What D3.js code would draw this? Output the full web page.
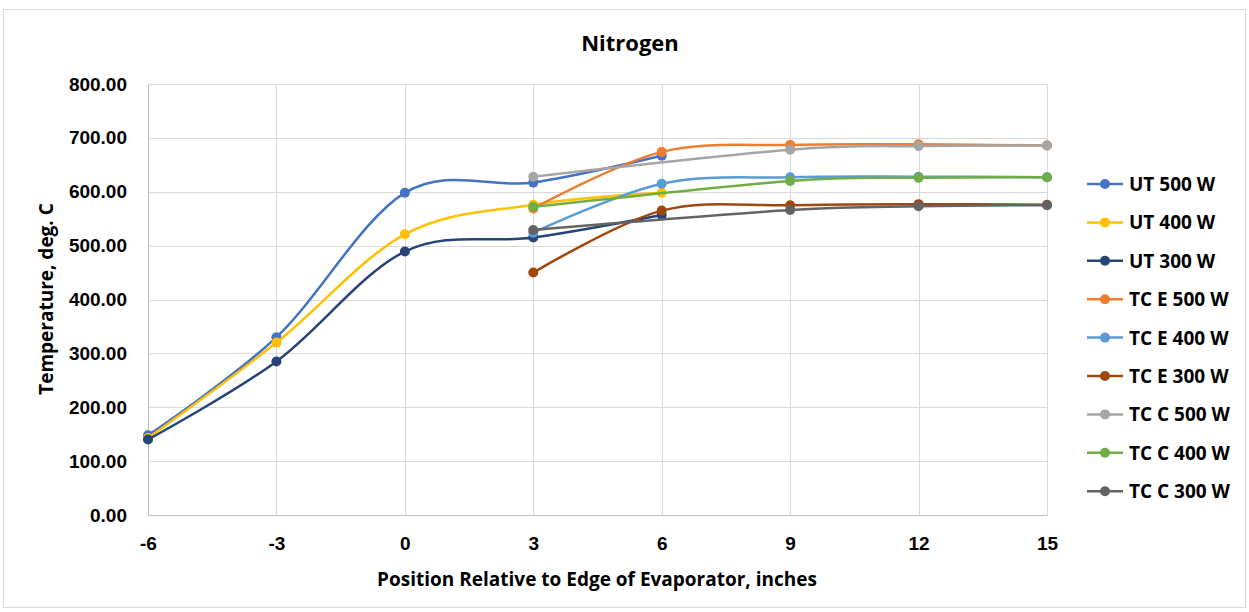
<!DOCTYPE html>
<html>
<head>
<meta charset="utf-8">
<script src="https://cdn.jsdelivr.net/npm/d3@7"></script>
<style>
  html, body { margin: 0; padding: 0; background: #fff; }
  svg { display: block; font-family: "Open Sans", "Liberation Sans", sans-serif; }
</style>
</head>
<body>
<svg id="chart" width="1249" height="612"></svg>
<script>
// Temperature profiles along the heat pipe, nitrogen working fluid
const seriesNames = ["UT 500 W", "UT 400 W", "UT 300 W", "TC E 500 W", "TC E 400 W",
                     "TC E 300 W", "TC C 500 W", "TC C 400 W", "TC C 300 W"];
const seriesColors = ["#4472C4", "#FFC000", "#264478", "#ED7D31", "#5B9BD5",
                      "#9E480E", "#A5A5A5", "#70AD47", "#636363"];

const utPositions = [-6, -3, 0, 3, 6];
const tcePositions = [3, 6, 9, 12, 15];
const tccPositions = [3, 9, 12, 15];

const ut500 = [148, 330, 598, 617, 667];
const ut400 = [143, 320, 521, 576, 598];
const ut300 = [140, 285, 489, 515, 557];
const tce500 = [569, 674, 687, 688, 686];
const tce400 = [524, 615, 627, 628, 627];
const tce300 = [450, 565, 575, 577, 576];
const tcc500 = [628, 678, 685, 686];
const tcc400 = [572, 620, 626, 627];
const tcc300 = [529, 566, 573, 575];

const xTicks = [-6, -3, 0, 3, 6, 9, 12, 15];
const yTicks = [0, 100, 200, 300, 400, 500, 600, 700, 800];

const seriesX = [utPositions, utPositions, utPositions, tcePositions, tcePositions,
                 tcePositions, tccPositions, tccPositions, tccPositions];
const seriesY = [ut500, ut400, ut300, tce500, tce400, tce300, tcc500, tcc400, tcc300];

const series = seriesNames.map((name, i) => ({
  name, color: seriesColors[i],
  points: seriesX[i].map((x, j) => ({ x, y: seriesY[i][j] }))
}));

const svg = d3.select("#chart");
const W = 1249, H = 612;
const plot = { left: 148, right: 1047, top: 84, bottom: 515 };

// Chart area border
svg.append("rect")
  .attr("x", 3.5).attr("y", 9.5).attr("width", W - 7).attr("height", H - 14)
  .attr("fill", "#fff").attr("stroke", "#d9d9d9").attr("stroke-width", 1);

const x = d3.scaleLinear().domain([-6, 15]).range([plot.left, plot.right]);
const y = d3.scaleLinear().domain([0, 800]).range([plot.bottom, plot.top]);

// Gridlines
const grid = svg.append("g");
grid.selectAll("line.h").data(yTicks).join("line")
  .attr("x1", plot.left).attr("x2", plot.right)
  .attr("y1", d => Math.round(y(d)) + 0.5).attr("y2", d => Math.round(y(d)) + 0.5)
  .attr("stroke", "#d9d9d9").attr("stroke-width", 1);
grid.selectAll("line.v").data(xTicks).join("line")
  .attr("y1", plot.top).attr("y2", plot.bottom)
  .attr("x1", d => Math.round(x(d)) + 0.5).attr("x2", d => Math.round(x(d)) + 0.5)
  .attr("stroke", "#d9d9d9").attr("stroke-width", 1);

// Axes
const xAxis = svg.append("g")
  .attr("transform", `translate(0,${plot.bottom})`)
  .call(d3.axisBottom(x).tickValues(xTicks).tickSize(0).tickPadding(22).tickFormat(d => String(d)));
xAxis.select(".domain").attr("stroke", "#bfbfbf");
xAxis.selectAll("text").attr("font-size", 19).attr("font-weight", "bold").attr("fill", "#000");

const yAxis = svg.append("g")
  .attr("transform", `translate(${plot.left},0)`)
  .call(d3.axisLeft(y).tickValues(yTicks).tickSize(0).tickPadding(21).tickFormat(d3.format(".2f")));
yAxis.select(".domain").attr("stroke", "#bfbfbf");
yAxis.selectAll("text").attr("font-size", 19).attr("font-weight", "bold").attr("fill", "#000");

// Lines and markers
const line = d3.line()
  .x(d => x(d.x)).y(d => y(d.y))
  .curve(d3.curveCardinal.tension(0));

const gSeries = svg.append("g");
series.forEach(s => {
  gSeries.append("path")
    .attr("d", line(s.points))
    .attr("fill", "none").attr("stroke", s.color).attr("stroke-width", 2.5)
    .attr("stroke-linejoin", "round").attr("stroke-linecap", "round");
  gSeries.selectAll(null).data(s.points).join("circle")
    .attr("cx", d => x(d.x)).attr("cy", d => y(d.y)).attr("r", 5)
    .attr("fill", s.color);
});

// Title and axis titles
svg.append("text").attr("x", 630).attr("y", 51).attr("text-anchor", "middle")
  .attr("font-size", 22).attr("font-weight", "bold").text("Nitrogen");
svg.append("text").attr("x", 597).attr("y", 586).attr("text-anchor", "middle")
  .attr("font-size", 19).attr("font-weight", "bold")
  .text("Position Relative to Edge of Evaporator, inches");
svg.append("text")
  .attr("transform", "translate(53,299) rotate(-90)")
  .attr("text-anchor", "middle").attr("font-size", 19).attr("font-weight", "bold")
  .text("Temperature, deg. C");

// Legend
const legend = svg.append("g").attr("transform", "translate(1087,184)");
series.forEach((s, i) => {
  const g = legend.append("g").attr("transform", `translate(0,${i * 38.4})`);
  g.append("line").attr("x1", 0).attr("x2", 36).attr("y1", 0).attr("y2", 0)
    .attr("stroke", s.color).attr("stroke-width", 2.5);
  g.append("circle").attr("cx", 18).attr("cy", 0).attr("r", 5).attr("fill", s.color);
  g.append("text").attr("x", 42).attr("y", 7).attr("font-size", 19)
    .attr("font-weight", "bold").text(s.name);
});
</script>
</body>
</html>
